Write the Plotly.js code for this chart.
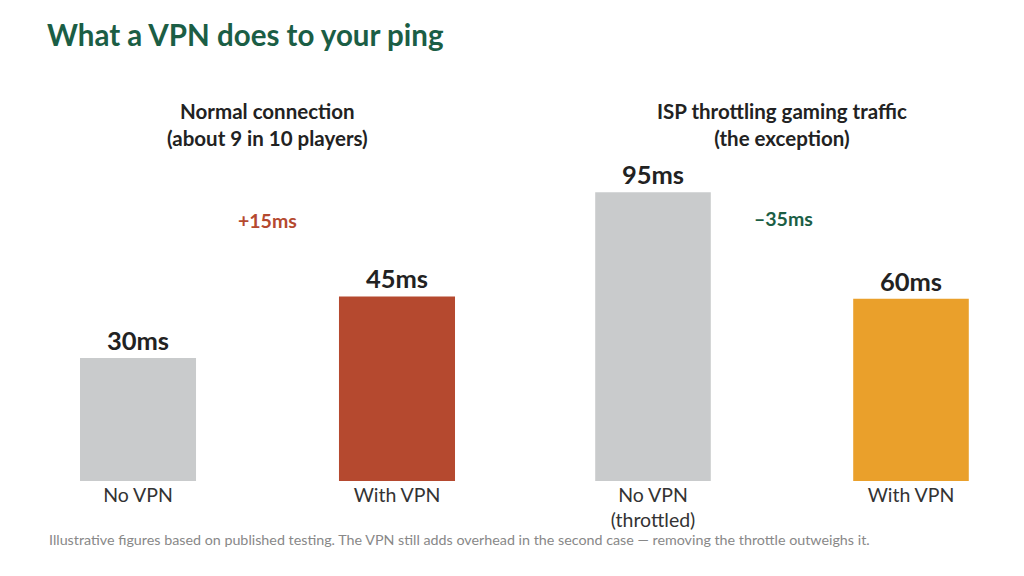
<!DOCTYPE html>
<html>
<head>
<meta charset="utf-8">
<script src="https://cdn.plot.ly/plotly-3.0.1.min.js"></script>
<style>
  html, body { margin: 0; padding: 0; background: #fff; }
  #chart { width: 1024px; height: 576px; }
</style>
</head>
<body>
<div id="chart"></div>
<script>
// data
var normalCats = ['No VPN', 'With VPN'];
var normalPing = [30, 45];
var normalColors = ['#c9cbcc', '#b5492f'];

var throttledCats = ['No VPN<br>(throttled)', 'With VPN'];
var throttledPing = [95, 60];
var throttledColors = ['#c9cbcc', '#eaa02b'];

var panelTitles = ['<b>Normal connection<br>(about 9 in 10 players)</b>',
                   '<b>ISP throttling gaming traffic<br>(the exception)</b>'];

function fmtDelta(d) {
  return (d > 0 ? '+' : '\u2013') + Math.abs(d) + 'ms';
}
var normalDelta = normalPing[1] - normalPing[0];
var throttledDelta = throttledPing[1] - throttledPing[0];

var labelFont = { family: 'Lato, sans-serif', size: 25.5, color: '#222' };

var traceLeft = {
  x: normalCats,
  y: normalPing,
  type: 'bar',
  width: 0.448,
  marker: { color: normalColors },
  texttemplate: '<b>%{y}ms</b>',
  textposition: 'outside',
  textfont: labelFont,
  cliponaxis: false,
  hoverinfo: 'skip',
  xaxis: 'x',
  yaxis: 'y'
};

var traceRight = {
  x: throttledCats,
  y: throttledPing,
  type: 'bar',
  width: 0.448,
  marker: { color: throttledColors },
  texttemplate: '<b>%{y}ms</b>',
  textposition: 'outside',
  textfont: labelFont,
  cliponaxis: false,
  hoverinfo: 'skip',
  xaxis: 'x2',
  yaxis: 'y2'
};

var tickFont = { family: 'Lato, sans-serif', size: 19.5, color: '#333' };
var yDom = [1 - 481 / 576, 1 - 150 / 576];

var layout = {
  width: 1024,
  height: 576,
  margin: { l: 0, r: 0, t: 0, b: 0 },
  paper_bgcolor: '#fff',
  plot_bgcolor: '#fff',
  showlegend: false,
  font: { family: 'Lato, sans-serif' },
  title: {
    text: '<b>What a VPN does to your ping</b>',
    x: 47 / 1024, xanchor: 'left',
    y: 1 - 36 / 576, yanchor: 'middle',
    font: { family: 'Lato, sans-serif', size: 29.5, color: '#1b5e45' }
  },
  xaxis: {
    domain: [30 / 1024, 505 / 1024],
    range: [-0.417, 1.417],
    type: 'category',
    showgrid: false, zeroline: false, showline: false, ticks: '',
    tickfont: tickFont, fixedrange: true
  },
  yaxis: {
    domain: yDom,
    range: [0, 80.7],
    visible: false, fixedrange: true
  },
  xaxis2: {
    domain: [545 / 1024, 1019 / 1024],
    range: [-0.4186, 1.4186],
    type: 'category',
    showgrid: false, zeroline: false, showline: false, ticks: '',
    tickfont: tickFont, fixedrange: true
  },
  yaxis2: {
    domain: yDom,
    anchor: 'x2',
    range: [0, 108.9],
    visible: false, fixedrange: true
  },
  annotations: [
    {
      text: panelTitles[0], xref: 'paper', yref: 'paper',
      x: 267 / 1024, y: 1 - 125 / 576, xanchor: 'center', yanchor: 'middle',
      showarrow: false, font: { family: 'Lato, sans-serif', size: 20.5, color: '#222' }
    },
    {
      text: panelTitles[1], xref: 'paper', yref: 'paper',
      x: 782 / 1024, y: 1 - 125 / 576, xanchor: 'center', yanchor: 'middle',
      showarrow: false, font: { family: 'Lato, sans-serif', size: 20.5, color: '#222' }
    },
    {
      text: '<b>' + fmtDelta(normalDelta) + '</b>', xref: 'paper', yref: 'paper',
      x: 267 / 1024, y: 1 - 220 / 576, xanchor: 'center', yanchor: 'middle',
      showarrow: false, font: { family: 'Lato, sans-serif', size: 19.5, color: '#b5492f' }
    },
    {
      text: '<b>' + fmtDelta(throttledDelta) + '</b>', xref: 'paper', yref: 'paper',
      x: 783 / 1024, y: 1 - 218 / 576, xanchor: 'center', yanchor: 'middle',
      showarrow: false, font: { family: 'Lato, sans-serif', size: 19.5, color: '#1b5e45' }
    },
    {
      text: 'Illustrative figures based on published testing. The VPN still adds overhead in the second case \u2014 removing the throttle outweighs it.',
      xref: 'paper', yref: 'paper',
      x: 47 / 1024, y: 1 - 539 / 576, xanchor: 'left', yanchor: 'middle',
      showarrow: false, font: { family: 'Lato, sans-serif', size: 14.3, color: '#888' }
    }
  ]
};

Plotly.newPlot('chart', [traceLeft, traceRight], layout, { displayModeBar: false, staticPlot: true });
</script>
</body>
</html>
